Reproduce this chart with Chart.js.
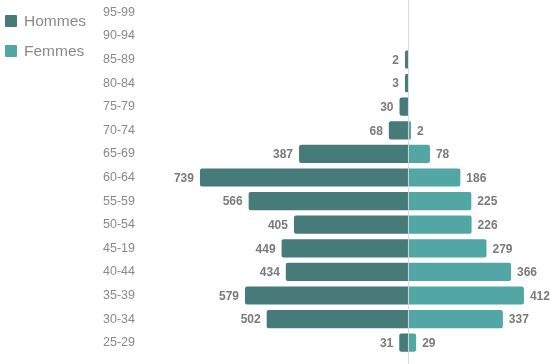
<!DOCTYPE html>
<html>
<head>
<meta charset="utf-8">
<script src="https://cdn.jsdelivr.net/npm/chart.js@4.4.1/dist/chart.umd.min.js"></script>
<style>
  html, body { margin: 0; padding: 0; background: #fff; }
  #wrap { position: relative; width: 558px; height: 364px; overflow: hidden; }
  #pyramid { display: block; margin-top: -12px; }
  #legend { position: absolute; left: 5px; top: 6px; font-family: Arial, "Liberation Sans", sans-serif; font-size: 15.5px; color: #8a8a8a; }
  .item { display: flex; align-items: center; height: 30px; }
  .box { width: 12px; height: 12px; margin-right: 7px; border-radius: 1px; }
</style>
</head>
<body>
<div id="wrap">
  <canvas id="pyramid" width="558" height="379"></canvas>
  <div id="legend"></div>
</div>
<script>
// tranches d'âge, du haut vers le bas
const ages = ['95-99', '90-94', '85-89', '80-84', '75-79', '70-74', '65-69', '60-64', '55-59', '50-54', '45-19', '40-44', '35-39', '30-34', '25-29'];
const hommes = [null, null, 2, 3, 30, 68, 387, 739, 566, 405, 449, 434, 579, 502, 31];
const femmes = [null, null, null, null, null, 2, 78, 186, 225, 226, 279, 366, 412, 337, 29];

const colHommes = '#477b79';
const colFemmes = '#52a6a4';

// légende en HTML
const legend = document.getElementById('legend');
[['Hommes', colHommes], ['Femmes', colFemmes]].forEach(([name, col]) => {
    const row = document.createElement('div');
    row.className = 'item';
    row.innerHTML = `<span class="box" style="background:${col}"></span>${name}`;
    legend.appendChild(row);
});

// étiquettes de valeurs au bout des barres
const valueLabels = {
    id: 'valueLabels',
    afterDatasetsDraw(chart) {
        const ctx = chart.ctx;
        ctx.save();
        ctx.font = 'bold 12px Arial, "Liberation Sans", sans-serif';
        ctx.fillStyle = '#7a7a7a';
        ctx.textBaseline = 'middle';
        chart.data.datasets.forEach((ds, i) => {
            chart.getDatasetMeta(i).data.forEach((bar, j) => {
                const v = ds.data[j];
                if (v === null) return;
                if (v < 0) {
                    ctx.textAlign = 'right';
                    ctx.fillText(String(-v), bar.x - 6, bar.y + 1);
                } else {
                    ctx.textAlign = 'left';
                    ctx.fillText(String(v), bar.x + 6, bar.y + 1);
                }
            });
        });
        ctx.restore();
    }
};

// ligne centrale
const centerLine = {
    id: 'centerLine',
    afterDatasetsDraw(chart) {
        const x = Math.round(chart.scales.x.getPixelForValue(0)) + 0.5;
        const ctx = chart.ctx;
        ctx.save();
        ctx.strokeStyle = 'rgba(215,215,215,0.9)';
        ctx.lineWidth = 1;
        ctx.beginPath();
        ctx.moveTo(x, 0);
        ctx.lineTo(x, chart.height);
        ctx.stroke();
        ctx.restore();
    }
};

new Chart(document.getElementById('pyramid'), {
    type: 'bar',
    data: {
        labels: ages,
        datasets: [
            { label: 'Hommes', data: hommes.map(v => v === null ? null : -v), backgroundColor: colHommes },
            { label: 'Femmes', data: femmes, backgroundColor: colFemmes }
        ]
    },
    options: {
        indexAxis: 'y',
        responsive: false,
        animation: false,
        layout: { padding: { top: 0, bottom: 0, left: 0, right: 0 } },
        datasets: {
            bar: { categoryPercentage: 1, barPercentage: 0.77, borderRadius: 2, minBarLength: 3 }
        },
        plugins: {
            legend: { display: false },
            tooltip: { enabled: false }
        },
        scales: {
            x: {
                stacked: true,
                min: -952,
                max: 533,
                display: false
            },
            y: {
                stacked: true,
                grid: { display: false, drawTicks: false },
                border: { display: false },
                afterFit: s => { s.width = 140; },
                ticks: {
                    padding: 5,
                    color: '#8a8a8a',
                    font: { family: 'Arial, "Liberation Sans", sans-serif', size: 12.5 }
                }
            }
        }
    },
    plugins: [valueLabels, centerLine]
});
</script>
</body>
</html>
